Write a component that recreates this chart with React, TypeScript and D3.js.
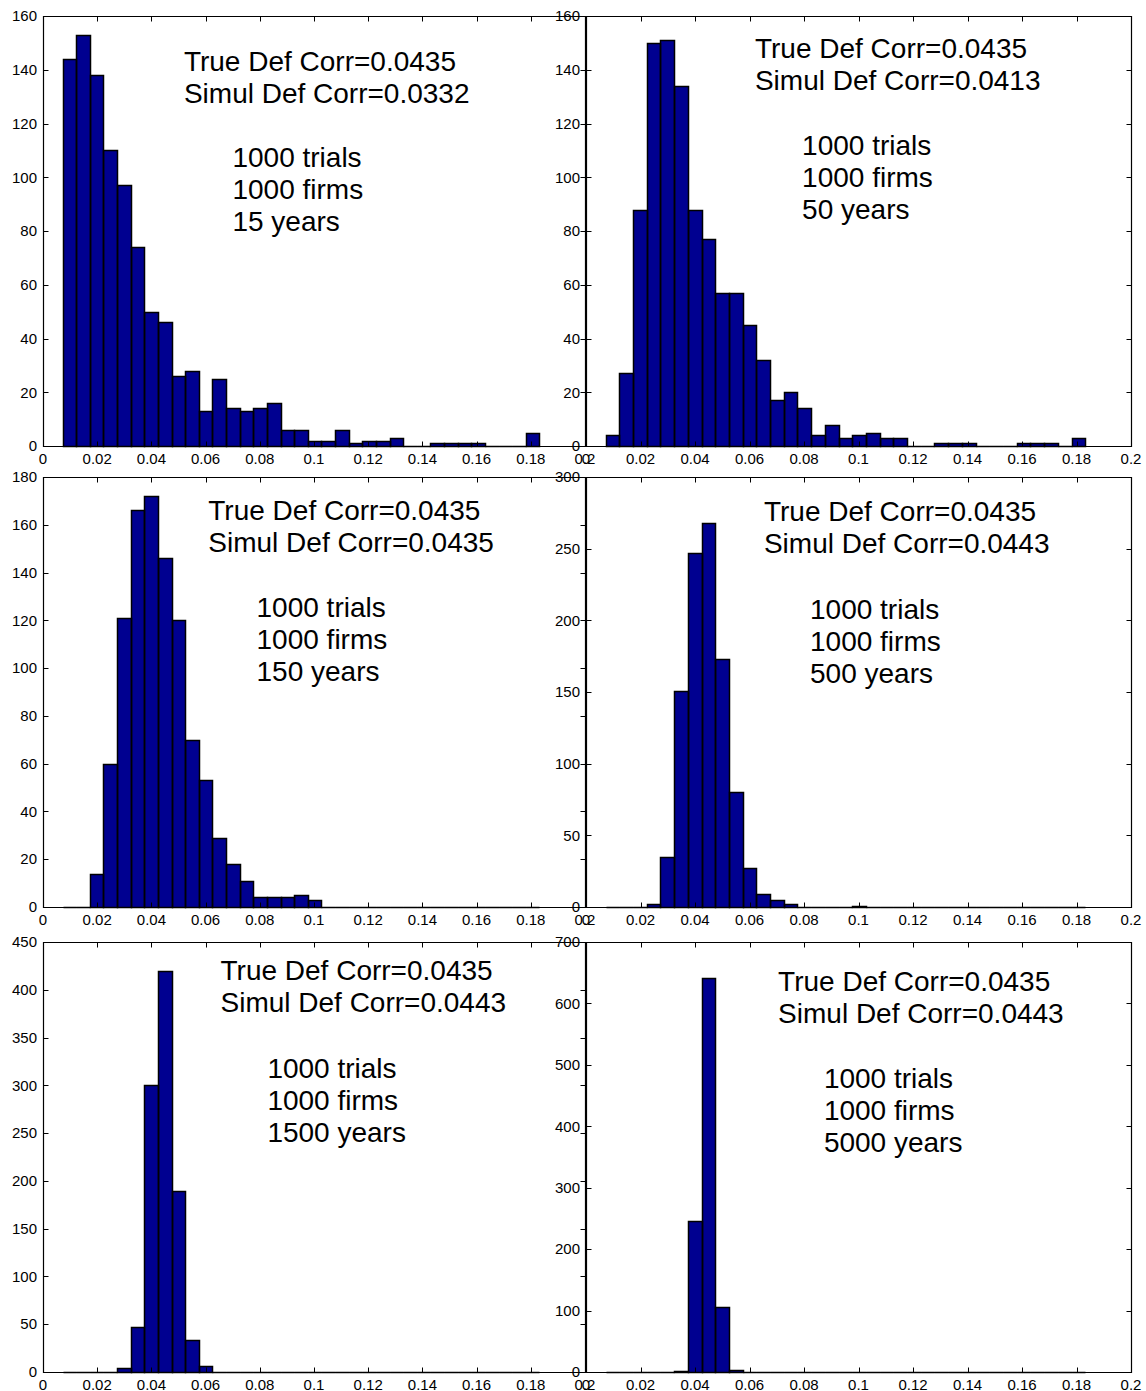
import React from "react";
import * as d3 from "d3";

// shared histogram bins (35 bins, same centres in every run)
const BIN_LO = 0.0072;
const BIN_HI = 0.1832;

const years = [15, 50, 150, 500, 1500, 5000];
const trials = 1000;
const firms = 1000;
const trueCorr = "0.0435";
const simulCorr = ["0.0332", "0.0413", "0.0435", "0.0443", "0.0443", "0.0443"];

const yMax = [160, 160, 180, 300, 450, 700];
const yStep = [20, 20, 20, 50, 50, 100];

const counts15 = [144, 153, 138, 110, 97, 74, 50, 46, 26, 28, 13, 25, 14, 13, 14, 16, 6, 6, 2, 2, 6, 1, 2, 2, 3, 0, 0, 1, 1, 1, 1, 0, 0, 0, 5];
const counts50 = [4, 27, 88, 150, 151, 134, 88, 77, 57, 57, 45, 32, 17, 20, 14, 4, 8, 3, 4, 5, 3, 3, 0, 0, 1, 1, 1, 0, 0, 0, 1, 1, 1, 0, 3];
const counts150 = [0, 0, 14, 60, 121, 166, 172, 146, 120, 70, 53, 29, 18, 11, 4, 4, 4, 5, 3, 0, 0, 0, 0, 0, 0, 0, 0, 0, 0, 0, 0, 0, 0, 0, 0];
const counts500 = [0, 0, 0, 2, 35, 151, 247, 268, 173, 80, 27, 9, 5, 2, 0, 0, 0, 0, 1, 0, 0, 0, 0, 0, 0, 0, 0, 0, 0, 0, 0, 0, 0, 0, 0];
const counts1500 = [0, 0, 0, 0, 4, 47, 300, 420, 189, 34, 6, 0, 0, 0, 0, 0, 0, 0, 0, 0, 0, 0, 0, 0, 0, 0, 0, 0, 0, 0, 0, 0, 0, 0, 0];
const counts5000 = [0, 0, 0, 0, 0, 2, 246, 642, 106, 4, 0, 0, 0, 0, 0, 0, 0, 0, 0, 0, 0, 0, 0, 0, 0, 0, 0, 0, 0, 0, 0, 0, 0, 0, 0];
const allCounts = [counts15, counts50, counts150, counts500, counts1500, counts5000];

// layout (pixels) and text anchors (data units, first-line baseline)
const COLS = [[43, 585], [586, 1131]];
const ROWS = [[16, 446], [477, 907], [942, 1372]];
const corrAt = [[0.052, 139.5], [0.062, 144.4], [0.061, 162], [0.0653, 269.3], [0.0655, 410], [0.0705, 620]];
const infoAt = [[0.0699, 103.7], [0.0793, 108.3], [0.0788, 121.4], [0.0822, 200.9], [0.0828, 308], [0.0873, 462]];

const FONT = "'Liberation Sans', Arial, Helvetica, sans-serif";
const BAR_FILL = "#000090";
const TICK = 5;
const LINE_H = 32;

const fmtX = (d: number) => (d === 0 ? "0" : String(+d.toFixed(2)));
// snap to pixel centre so 1px strokes stay sharp
const px = (v: number) => Math.round(v) + 0.5;

function Panel({ idx }: { idx: number }) {
  const [x0, x1] = COLS[idx % 2];
  const [y0, y1] = ROWS[Math.floor(idx / 2)];
  const counts = allCounts[idx];

  const x = d3.scaleLinear().domain([0, 0.2]).range([x0, x1]);
  const y = d3.scaleLinear().domain([0, yMax[idx]]).range([y1, y0]);
  const edge = d3.scaleLinear().domain([0, counts.length]).range([BIN_LO, BIN_HI]);

  const xTicks = d3.ticks(0, 0.2, 10);
  const yTicks = d3.range(0, yMax[idx] + 1, yStep[idx]);

  const corrLines = [`True Def Corr=${trueCorr}`, `Simul Def Corr=${simulCorr[idx]}`];
  const infoLines = [`${trials} trials`, `${firms} firms`, `${years[idx]} years`];

  const bx0 = px(x0), bx1 = px(x1), by0 = px(y0), by1 = px(y1);

  const bars = counts.map((c, i) => ({
    a: px(x(edge(i))),
    b: px(x(edge(i + 1))),
    top: px(y(c)),
  }));

  return (
    <g>
      {/* fills first, then outlines so shared edges are never painted over */}
      {bars.map((d, i) => (
        <path key={`f${i}`} d={`M${d.a},${by1}V${d.top}H${d.b}V${by1}Z`} fill={BAR_FILL} />
      ))}
      {bars.map((d, i) => (
        <path
          key={`s${i}`}
          d={`M${d.a},${by1}V${d.top}H${d.b}V${by1}Z`}
          fill="none"
          stroke="#000"
          strokeWidth={1.5}
        />
      ))}

      {/* box */}
      <path d={`M${bx0},${by0}H${bx1}V${by1}H${bx0}Z`} fill="none" stroke="#000" strokeWidth={1.2} />

      {/* x ticks, inward on bottom and top */}
      {xTicks.map((t) => (
        <g key={`x${t}`}>
          <line x1={px(x(t))} x2={px(x(t))} y1={by1} y2={by1 - TICK} stroke="#000" />
          <line x1={px(x(t))} x2={px(x(t))} y1={by0} y2={by0 + TICK} stroke="#000" />
          <text x={x(t)} y={y1 + 18} textAnchor="middle" fontSize={15} fontFamily={FONT}>
            {fmtX(t)}
          </text>
        </g>
      ))}

      {/* y ticks, inward on left and right */}
      {yTicks.map((t) => (
        <g key={`y${t}`}>
          <line x1={bx0} x2={bx0 + TICK} y1={px(y(t))} y2={px(y(t))} stroke="#000" />
          <line x1={bx1} x2={bx1 - TICK} y1={px(y(t))} y2={px(y(t))} stroke="#000" />
          <text x={x0 - 6} y={y(t)} dy="0.35em" textAnchor="end" fontSize={15} fontFamily={FONT}>
            {t}
          </text>
        </g>
      ))}

      <text x={x(corrAt[idx][0])} y={y(corrAt[idx][1])} fontSize={28} fontFamily={FONT}>
        {corrLines.map((l, i) => (
          <tspan key={i} x={x(corrAt[idx][0])} dy={i === 0 ? 0 : LINE_H}>
            {l}
          </tspan>
        ))}
      </text>
      <text x={x(infoAt[idx][0])} y={y(infoAt[idx][1])} fontSize={28} fontFamily={FONT}>
        {infoLines.map((l, i) => (
          <tspan key={i} x={x(infoAt[idx][0])} dy={i === 0 ? 0 : LINE_H}>
            {l}
          </tspan>
        ))}
      </text>
    </g>
  );
}

export default function App() {
  return (
    <svg
      width={1146}
      height={1391}
      style={{ position: "absolute", left: 0, top: 0, background: "#fff" }}
    >
      <rect width={1146} height={1391} fill="#fff" />
      {allCounts.map((_, i) => (
        <Panel key={i} idx={i} />
      ))}
    </svg>
  );
}
